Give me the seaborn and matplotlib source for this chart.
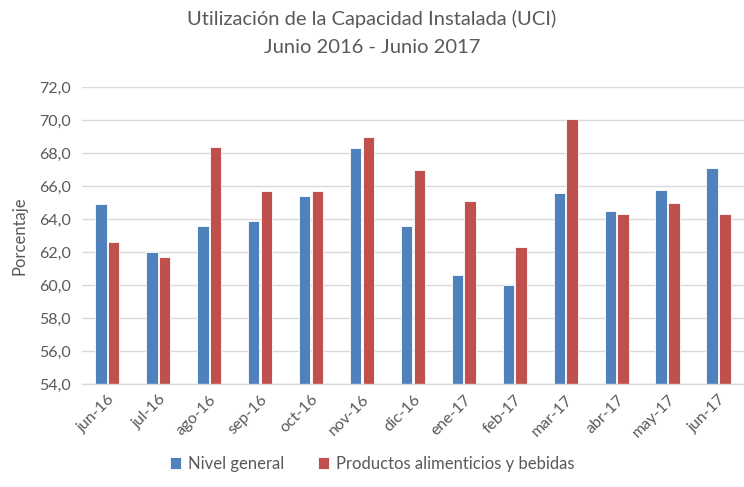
import matplotlib
matplotlib.use("Agg")
import matplotlib.pyplot as plt
import seaborn as sns
import pandas as pd
import numpy as np
from matplotlib.ticker import FuncFormatter, FixedLocator

months = ["jun-16", "jul-16", "ago-16", "sep-16", "oct-16", "nov-16", "dic-16",
          "ene-17", "feb-17", "mar-17", "abr-17", "may-17", "jun-17"]
nivel_general = [64.9, 62.0, 63.6, 63.9, 65.4, 68.3, 63.6, 60.6, 60.0, 65.6, 64.5, 65.8, 67.1]
alimentos = [62.6, 61.7, 68.4, 65.7, 65.7, 69.0, 67.0, 65.1, 62.3, 70.1, 64.3, 65.0, 64.3]
series_names = ["Nivel general", "Productos alimenticios y bebidas"]
colors = ["#4F81BD", "#C0504D"]

df = pd.DataFrame({
    "mes": months * 2,
    "valor": nivel_general + alimentos,
    "serie": [series_names[0]] * len(months) + [series_names[1]] * len(months),
})

sns.set_theme(style="white")
plt.rcParams["font.family"] = ["Lato", "DejaVu Sans"]
text_color = "#595959"

fig = plt.figure(figsize=(7.44, 4.87), dpi=100)
ax = fig.add_axes([0.110, 0.2115, 0.890, 0.6092])

sns.barplot(data=df, x="mes", y="valor", hue="serie", palette=colors, saturation=1,
            width=0.5, gap=0.1, ax=ax, edgecolor="white", linewidth=0.6,
            legend=True)

# Bars start at 54 (baseline)
for p in ax.patches:
    h = p.get_height()
    if h > 0:
        p.set_y(54)
        p.set_height(h - 54)

ax.set_ylim(54, 72)
ax.set_xlim(-0.5, len(months) - 0.5)
ax.set_yticks(np.arange(54, 72.1, 2))
ax.yaxis.set_major_formatter(FuncFormatter(lambda v, p: f"{v:.1f}".replace(".", ",")))
ax.grid(axis="y", color="#D9D9D9", linewidth=1)
ax.set_axisbelow(True)
for s in ["top", "right", "left"]:
    ax.spines[s].set_visible(False)
ax.spines["bottom"].set_color("#D9D9D9")
ax.spines["bottom"].set_linewidth(1)

ax.tick_params(axis="y", length=0, labelsize=11.5, labelcolor=text_color, pad=8)
ax.tick_params(axis="x", which="major", length=0, labelsize=11.5, labelcolor=text_color, pad=6)
ax.xaxis.set_minor_locator(FixedLocator(np.arange(-0.5, len(months), 1)))
ax.tick_params(axis="x", which="minor", length=5, color="#D9D9D9", width=1, direction="out")
for lbl in ax.get_xticklabels():
    lbl.set_rotation(45)
    lbl.set_ha("right")
    lbl.set_rotation_mode("anchor")

ax.set_xlabel("")
ax.set_ylabel("Porcentaje", fontsize=12, color=text_color, labelpad=8)

fig.text(0.5, 0.962, "Utilización de la Capacidad Instalada (UCI)", ha="center", va="center",
         fontsize=14.5, color=text_color)
fig.text(0.5, 0.903, "Junio 2016 - Junio 2017", ha="center", va="center",
         fontsize=14.5, color=text_color)

handles, labels = ax.get_legend_handles_labels()
ax.legend_.remove()
fig.legend(handles, labels, loc="center", bbox_to_anchor=(0.5, 0.048), ncol=2, frameon=False,
           fontsize=12, labelcolor=text_color, handlelength=0.7, handleheight=0.7,
           handletextpad=0.4, columnspacing=2.0)

fig.savefig("out.png", dpi=100)
